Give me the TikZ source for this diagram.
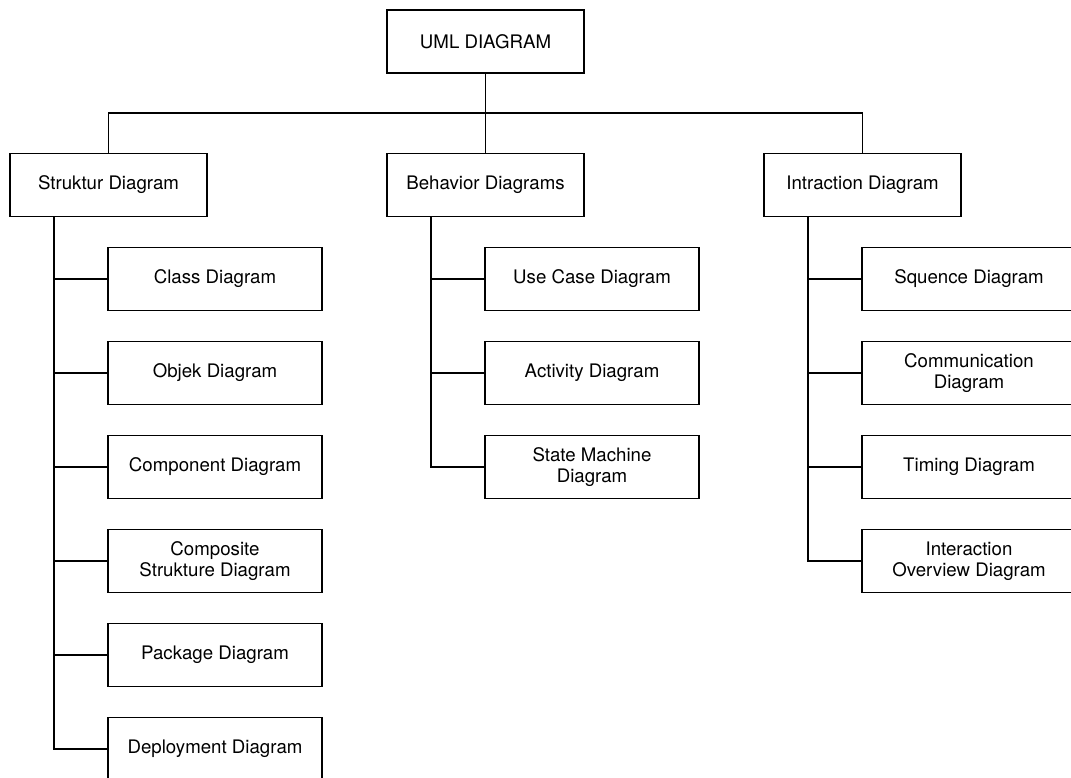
\documentclass[tikz,border=0pt]{standalone}
\usepackage{fontspec}
\setmainfont{TeX Gyre Heros}

\tikzset{
  box/.style={draw, rectangle, minimum width=197*0.75pt, minimum height=63*0.75pt, inner sep=2pt},
  subbox/.style={draw, rectangle, align=center, minimum width=214*0.75pt, minimum height=63*0.75pt, inner sep=2pt},
}

\begin{document}
\begin{tikzpicture}[x=0.75pt, y=-0.75pt, font=\fontsize{14}{16}\selectfont, line width=1.3pt]

  % frame of the page
  \useasboundingbox (0,0) rectangle (1071,778);
  \clip (0,0) rectangle (1071,778);

  % top level
  \node[box] (uml) at (485.5,41.5) {UML DIAGRAM};
  \node[box] (str) at (108.5,185) {Struktur Diagram};
  \node[box] (beh) at (485.5,185) {Behavior Diagrams};
  \node[box] (int) at (862.5,185) {Intraction Diagram};

  \draw (uml.south) -- (beh.north);
  \draw (str.north) -- ++(0,-40) -| (int.north);

  % struktur
  \foreach \t [count=\i] in {Class Diagram, Objek Diagram, Component Diagram,
      {Composite\\Strukture Diagram}, Package Diagram, Deployment Diagram}
    \node[subbox] (str\i) at (215,{279+94*(\i-1)}) {\t};
  \foreach \i in {1,...,6}
    \draw (str.south west) ++(45,0) |- (str\i.west);

  % behavior
  \foreach \t [count=\i] in {Use Case Diagram, Activity Diagram, {State Machine\\Diagram}}
    \node[subbox] (beh\i) at (592,{279+94*(\i-1)}) {\t};
  \foreach \i in {1,...,3}
    \draw (beh.south west) ++(45,0) |- (beh\i.west);

  % interaction
  \foreach \t [count=\i] in {Squence Diagram, {Communication\\Diagram}, Timing Diagram,
      {Interaction\\Overview Diagram}}
    \node[subbox] (int\i) at (969,{279+94*(\i-1)}) {\t};
  \foreach \i in {1,...,4}
    \draw (int.south west) ++(45,0) |- (int\i.west);

\end{tikzpicture}
\end{document}
